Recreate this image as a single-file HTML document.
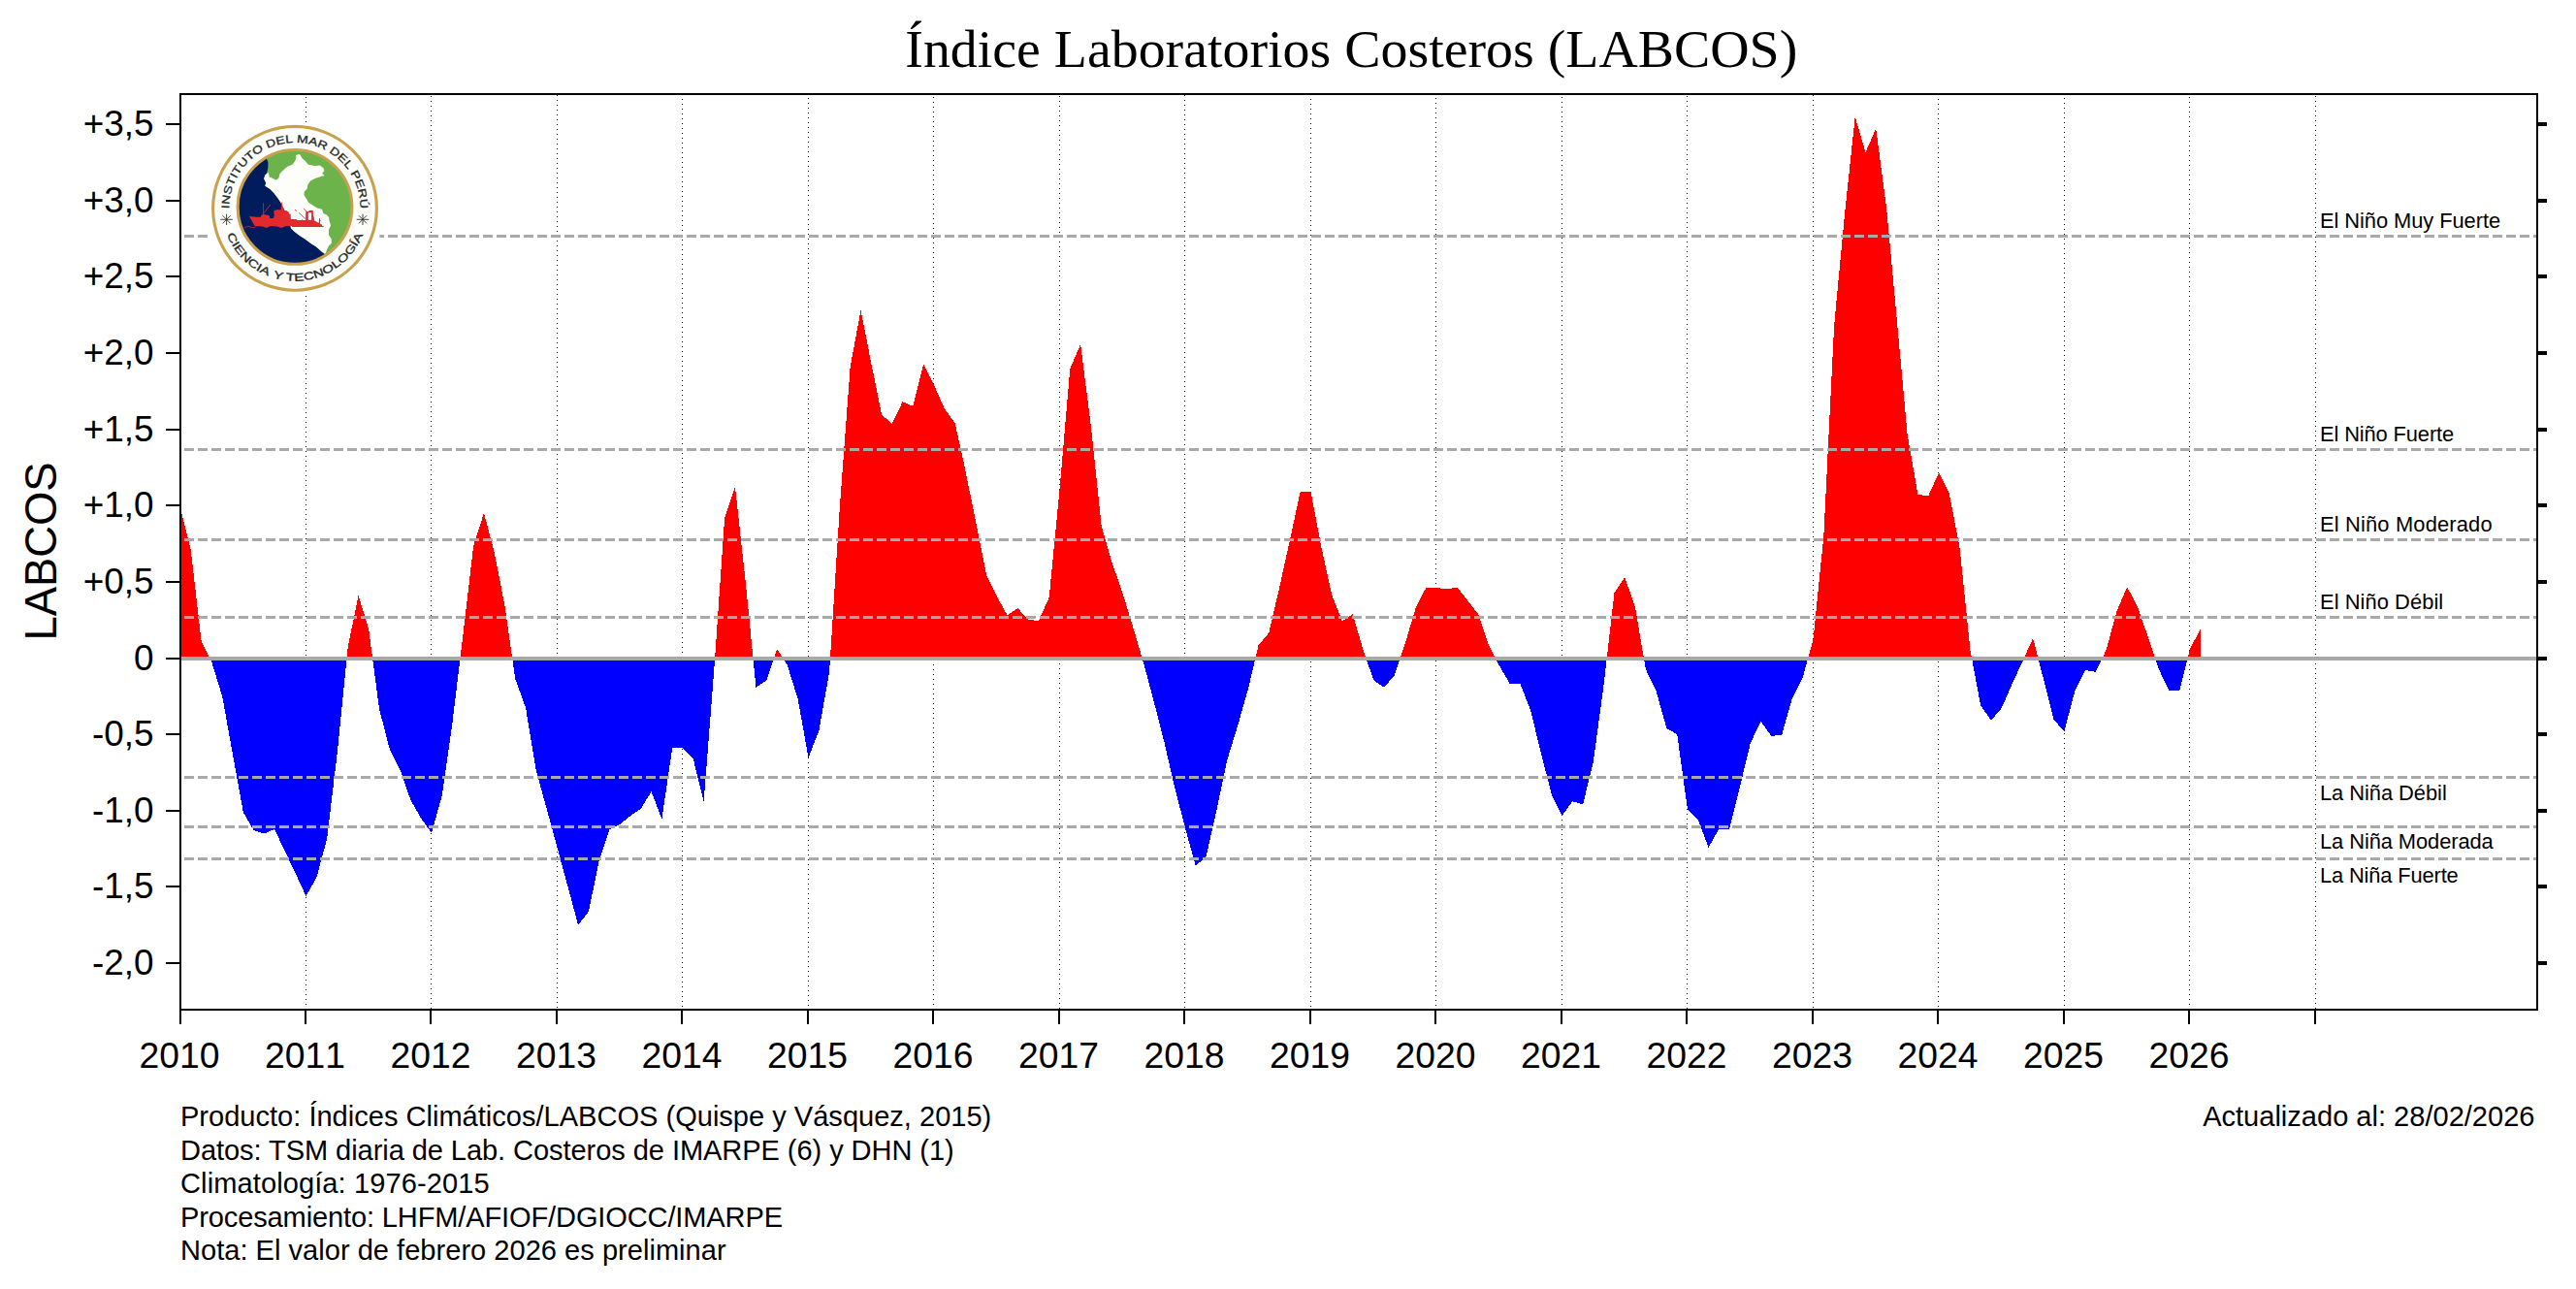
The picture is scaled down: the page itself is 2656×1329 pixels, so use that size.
<!DOCTYPE html>
<html lang="es"><head><meta charset="utf-8">
<title>Índice Laboratorios Costeros (LABCOS)</title>
<style>
html,body{margin:0;padding:0;background:#fff;}
body{width:2656px;height:1329px;overflow:hidden;}
svg{display:block;}
.sans{font-family:"Liberation Sans",Arial,Helvetica,sans-serif;fill:#000;}
.serif{font-family:"Liberation Serif","Times New Roman",Times,serif;fill:#000;}
</style></head><body>
<svg width="2656" height="1329" viewBox="0 0 2656 1329">
<rect x="0" y="0" width="2656" height="1329" fill="#fff"/>
<defs>
<clipPath id="cpos"><rect x="186" y="97" width="2430" height="581.50"/></clipPath>
<clipPath id="cneg"><rect x="186" y="678.50" width="2430" height="362.50"/></clipPath>
</defs>
<text class="serif" x="1393.3" y="68.9" font-size="55.87" text-anchor="middle">Índice Laboratorios Costeros (LABCOS)</text>
<g stroke="#000" stroke-width="1" stroke-dasharray="1 4" shape-rendering="crispEdges">
<line x1="315.5" y1="100" x2="315.5" y2="1040"/>
<line x1="444.5" y1="99" x2="444.5" y2="1040"/>
<line x1="574.5" y1="98" x2="574.5" y2="1040"/>
<line x1="703.5" y1="102" x2="703.5" y2="1040"/>
<line x1="833.5" y1="101" x2="833.5" y2="1040"/>
<line x1="962.5" y1="100" x2="962.5" y2="1040"/>
<line x1="1092.5" y1="99" x2="1092.5" y2="1040"/>
<line x1="1221.5" y1="98" x2="1221.5" y2="1040"/>
<line x1="1351.5" y1="102" x2="1351.5" y2="1040"/>
<line x1="1480.5" y1="101" x2="1480.5" y2="1040"/>
<line x1="1610.5" y1="100" x2="1610.5" y2="1040"/>
<line x1="1739.5" y1="99" x2="1739.5" y2="1040"/>
<line x1="1869.5" y1="98" x2="1869.5" y2="1040"/>
<line x1="1998.5" y1="102" x2="1998.5" y2="1040"/>
<line x1="2128.5" y1="101" x2="2128.5" y2="1040"/>
<line x1="2257.5" y1="100" x2="2257.5" y2="1040"/>
<line x1="2387.5" y1="99" x2="2387.5" y2="1040"/>
</g>
<path d="M186.0,678.5 L186.0,524.0 L196.8,567.5 L207.6,661.0 L218.4,683.0 L229.2,718.0 L240.0,778.0 L250.8,837.5 L261.5,856.0 L272.3,859.5 L283.1,855.0 L293.9,878.0 L304.7,900.5 L315.5,923.8 L326.3,905.0 L337.1,865.0 L347.9,775.0 L358.7,667.5 L369.5,613.8 L380.2,648.8 L391.0,731.0 L401.8,772.5 L412.6,793.8 L423.4,825.0 L434.2,843.8 L445.0,858.8 L455.8,820.0 L466.6,744.0 L477.4,654.8 L488.2,562.5 L499.0,528.8 L509.8,570.0 L520.5,625.0 L531.3,700.0 L542.1,730.0 L552.9,795.0 L563.7,834.0 L574.5,873.8 L585.3,913.5 L596.1,953.8 L606.9,940.0 L617.7,887.5 L628.5,855.0 L639.2,850.0 L650.0,841.2 L660.8,833.8 L671.6,816.2 L682.4,844.5 L693.2,771.2 L704.0,771.2 L714.8,782.5 L725.6,826.8 L736.4,689.0 L747.2,533.8 L758.0,502.0 L768.8,601.0 L779.5,708.8 L790.3,701.5 L801.1,669.0 L811.9,686.0 L822.7,721.0 L833.5,781.2 L844.3,753.8 L855.1,693.0 L865.9,522.0 L876.7,378.0 L887.5,320.0 L898.2,374.0 L909.0,427.5 L919.8,437.0 L930.6,414.2 L941.4,418.8 L952.2,375.0 L963.0,397.0 L973.8,421.2 L984.6,436.2 L995.4,485.0 L1006.2,538.8 L1017.0,592.5 L1027.8,615.0 L1038.5,634.2 L1049.3,627.0 L1060.1,638.8 L1070.9,640.0 L1081.7,616.0 L1092.5,505.0 L1103.3,380.0 L1114.1,355.0 L1124.9,440.0 L1135.7,542.5 L1146.5,580.0 L1157.2,610.5 L1168.0,646.0 L1178.8,682.5 L1189.6,723.0 L1200.4,765.0 L1211.2,812.0 L1222.0,853.9 L1232.8,892.9 L1243.6,883.0 L1254.4,835.2 L1265.2,784.0 L1276.0,748.8 L1286.8,711.0 L1297.5,665.5 L1308.3,652.5 L1319.1,606.0 L1329.9,557.0 L1340.7,507.0 L1351.5,507.0 L1362.3,563.8 L1373.1,613.0 L1383.9,640.5 L1394.7,633.2 L1405.5,670.0 L1416.2,701.2 L1427.0,708.8 L1437.8,696.2 L1448.6,664.0 L1459.4,627.5 L1470.2,606.2 L1481.0,605.8 L1491.8,607.5 L1502.6,605.5 L1513.4,619.5 L1524.2,633.2 L1535.0,665.0 L1545.8,686.2 L1556.5,704.5 L1567.3,704.5 L1578.1,732.5 L1588.9,776.5 L1599.7,818.8 L1610.5,841.2 L1621.3,826.2 L1632.1,829.5 L1642.9,785.0 L1653.7,705.0 L1664.5,611.2 L1675.2,595.0 L1686.0,626.2 L1696.8,690.0 L1707.6,712.5 L1718.4,751.2 L1729.2,757.0 L1740.0,835.0 L1750.8,845.0 L1761.6,873.8 L1772.4,854.5 L1783.2,854.5 L1794.0,811.0 L1804.8,766.2 L1815.5,743.8 L1826.3,758.8 L1837.1,758.0 L1847.9,720.0 L1858.7,698.5 L1869.5,659.5 L1880.3,553.0 L1891.1,336.0 L1901.9,222.0 L1912.7,120.5 L1923.5,157.0 L1934.2,132.5 L1945.0,213.8 L1955.8,330.0 L1966.6,447.5 L1977.4,510.0 L1988.2,511.2 L1999.0,487.5 L2009.8,508.8 L2020.6,565.0 L2031.4,670.0 L2042.2,727.5 L2053.0,742.8 L2063.8,730.0 L2074.5,705.5 L2085.3,682.0 L2096.1,658.0 L2106.9,700.0 L2117.7,742.5 L2128.5,753.8 L2139.3,712.5 L2150.1,691.1 L2160.9,692.8 L2171.7,670.0 L2182.5,630.0 L2193.2,605.0 L2204.0,626.0 L2214.8,657.0 L2225.6,689.5 L2236.4,711.9 L2247.2,711.9 L2258.0,668.8 L2268.8,648.9 L2268.8,678.5 Z" fill="#ff0000" clip-path="url(#cpos)" shape-rendering="crispEdges"/>
<path d="M186.0,678.5 L186.0,524.0 L196.8,567.5 L207.6,661.0 L218.4,683.0 L229.2,718.0 L240.0,778.0 L250.8,837.5 L261.5,856.0 L272.3,859.5 L283.1,855.0 L293.9,878.0 L304.7,900.5 L315.5,923.8 L326.3,905.0 L337.1,865.0 L347.9,775.0 L358.7,667.5 L369.5,613.8 L380.2,648.8 L391.0,731.0 L401.8,772.5 L412.6,793.8 L423.4,825.0 L434.2,843.8 L445.0,858.8 L455.8,820.0 L466.6,744.0 L477.4,654.8 L488.2,562.5 L499.0,528.8 L509.8,570.0 L520.5,625.0 L531.3,700.0 L542.1,730.0 L552.9,795.0 L563.7,834.0 L574.5,873.8 L585.3,913.5 L596.1,953.8 L606.9,940.0 L617.7,887.5 L628.5,855.0 L639.2,850.0 L650.0,841.2 L660.8,833.8 L671.6,816.2 L682.4,844.5 L693.2,771.2 L704.0,771.2 L714.8,782.5 L725.6,826.8 L736.4,689.0 L747.2,533.8 L758.0,502.0 L768.8,601.0 L779.5,708.8 L790.3,701.5 L801.1,669.0 L811.9,686.0 L822.7,721.0 L833.5,781.2 L844.3,753.8 L855.1,693.0 L865.9,522.0 L876.7,378.0 L887.5,320.0 L898.2,374.0 L909.0,427.5 L919.8,437.0 L930.6,414.2 L941.4,418.8 L952.2,375.0 L963.0,397.0 L973.8,421.2 L984.6,436.2 L995.4,485.0 L1006.2,538.8 L1017.0,592.5 L1027.8,615.0 L1038.5,634.2 L1049.3,627.0 L1060.1,638.8 L1070.9,640.0 L1081.7,616.0 L1092.5,505.0 L1103.3,380.0 L1114.1,355.0 L1124.9,440.0 L1135.7,542.5 L1146.5,580.0 L1157.2,610.5 L1168.0,646.0 L1178.8,682.5 L1189.6,723.0 L1200.4,765.0 L1211.2,812.0 L1222.0,853.9 L1232.8,892.9 L1243.6,883.0 L1254.4,835.2 L1265.2,784.0 L1276.0,748.8 L1286.8,711.0 L1297.5,665.5 L1308.3,652.5 L1319.1,606.0 L1329.9,557.0 L1340.7,507.0 L1351.5,507.0 L1362.3,563.8 L1373.1,613.0 L1383.9,640.5 L1394.7,633.2 L1405.5,670.0 L1416.2,701.2 L1427.0,708.8 L1437.8,696.2 L1448.6,664.0 L1459.4,627.5 L1470.2,606.2 L1481.0,605.8 L1491.8,607.5 L1502.6,605.5 L1513.4,619.5 L1524.2,633.2 L1535.0,665.0 L1545.8,686.2 L1556.5,704.5 L1567.3,704.5 L1578.1,732.5 L1588.9,776.5 L1599.7,818.8 L1610.5,841.2 L1621.3,826.2 L1632.1,829.5 L1642.9,785.0 L1653.7,705.0 L1664.5,611.2 L1675.2,595.0 L1686.0,626.2 L1696.8,690.0 L1707.6,712.5 L1718.4,751.2 L1729.2,757.0 L1740.0,835.0 L1750.8,845.0 L1761.6,873.8 L1772.4,854.5 L1783.2,854.5 L1794.0,811.0 L1804.8,766.2 L1815.5,743.8 L1826.3,758.8 L1837.1,758.0 L1847.9,720.0 L1858.7,698.5 L1869.5,659.5 L1880.3,553.0 L1891.1,336.0 L1901.9,222.0 L1912.7,120.5 L1923.5,157.0 L1934.2,132.5 L1945.0,213.8 L1955.8,330.0 L1966.6,447.5 L1977.4,510.0 L1988.2,511.2 L1999.0,487.5 L2009.8,508.8 L2020.6,565.0 L2031.4,670.0 L2042.2,727.5 L2053.0,742.8 L2063.8,730.0 L2074.5,705.5 L2085.3,682.0 L2096.1,658.0 L2106.9,700.0 L2117.7,742.5 L2128.5,753.8 L2139.3,712.5 L2150.1,691.1 L2160.9,692.8 L2171.7,670.0 L2182.5,630.0 L2193.2,605.0 L2204.0,626.0 L2214.8,657.0 L2225.6,689.5 L2236.4,711.9 L2247.2,711.9 L2258.0,668.8 L2268.8,648.9 L2268.8,678.5 Z" fill="#0000ff" clip-path="url(#cneg)" shape-rendering="crispEdges"/>
<g stroke="#a9a9a9" stroke-width="3" stroke-dasharray="10 4" shape-rendering="crispEdges">
<line x1="190" y1="243.5" x2="2615" y2="243.5"/>
<line x1="190" y1="463.5" x2="2615" y2="463.5"/>
<line x1="190" y1="556.5" x2="2615" y2="556.5"/>
<line x1="190" y1="636.5" x2="2615" y2="636.5"/>
<line x1="190" y1="801.5" x2="2615" y2="801.5"/>
<line x1="190" y1="852.5" x2="2615" y2="852.5"/>
<line x1="190" y1="885.5" x2="2615" y2="885.5"/>
</g>
<rect x="187" y="677" width="2428" height="4" fill="#a9a9a9"/>
<rect x="186" y="97" width="2430" height="944" fill="none" stroke="#000" stroke-width="2" shape-rendering="crispEdges"/>
<g stroke="#000" shape-rendering="crispEdges">
<line x1="171" y1="128" x2="186" y2="128" stroke-width="2"/>
<line x1="2616" y1="128" x2="2626" y2="128" stroke-width="4"/>
<line x1="171" y1="207" x2="186" y2="207" stroke-width="2"/>
<line x1="2616" y1="207" x2="2626" y2="207" stroke-width="4"/>
<line x1="171" y1="285" x2="186" y2="285" stroke-width="2"/>
<line x1="2616" y1="285" x2="2626" y2="285" stroke-width="4"/>
<line x1="171" y1="364" x2="186" y2="364" stroke-width="2"/>
<line x1="2616" y1="364" x2="2626" y2="364" stroke-width="4"/>
<line x1="171" y1="443" x2="186" y2="443" stroke-width="2"/>
<line x1="2616" y1="443" x2="2626" y2="443" stroke-width="4"/>
<line x1="171" y1="521" x2="186" y2="521" stroke-width="2"/>
<line x1="2616" y1="521" x2="2626" y2="521" stroke-width="4"/>
<line x1="171" y1="600" x2="186" y2="600" stroke-width="2"/>
<line x1="2616" y1="600" x2="2626" y2="600" stroke-width="4"/>
<line x1="171" y1="679" x2="186" y2="679" stroke-width="2"/>
<line x1="2616" y1="679" x2="2626" y2="679" stroke-width="4"/>
<line x1="171" y1="757" x2="186" y2="757" stroke-width="2"/>
<line x1="2616" y1="757" x2="2626" y2="757" stroke-width="4"/>
<line x1="171" y1="836" x2="186" y2="836" stroke-width="2"/>
<line x1="2616" y1="836" x2="2626" y2="836" stroke-width="4"/>
<line x1="171" y1="914" x2="186" y2="914" stroke-width="2"/>
<line x1="2616" y1="914" x2="2626" y2="914" stroke-width="4"/>
<line x1="171" y1="993" x2="186" y2="993" stroke-width="2"/>
<line x1="2616" y1="993" x2="2626" y2="993" stroke-width="4"/>
<line x1="186" y1="1041" x2="186" y2="1056" stroke-width="2"/>
<line x1="315" y1="1041" x2="315" y2="1056" stroke-width="2"/>
<line x1="444" y1="1041" x2="444" y2="1056" stroke-width="2"/>
<line x1="574" y1="1041" x2="574" y2="1056" stroke-width="2"/>
<line x1="703" y1="1041" x2="703" y2="1056" stroke-width="2"/>
<line x1="833" y1="1041" x2="833" y2="1056" stroke-width="2"/>
<line x1="962" y1="1041" x2="962" y2="1056" stroke-width="2"/>
<line x1="1092" y1="1041" x2="1092" y2="1056" stroke-width="2"/>
<line x1="1221" y1="1041" x2="1221" y2="1056" stroke-width="2"/>
<line x1="1351" y1="1041" x2="1351" y2="1056" stroke-width="2"/>
<line x1="1480" y1="1041" x2="1480" y2="1056" stroke-width="2"/>
<line x1="1610" y1="1041" x2="1610" y2="1056" stroke-width="2"/>
<line x1="1739" y1="1041" x2="1739" y2="1056" stroke-width="2"/>
<line x1="1869" y1="1041" x2="1869" y2="1056" stroke-width="2"/>
<line x1="1998" y1="1041" x2="1998" y2="1056" stroke-width="2"/>
<line x1="2128" y1="1041" x2="2128" y2="1056" stroke-width="2"/>
<line x1="2257" y1="1041" x2="2257" y2="1056" stroke-width="2"/>
<line x1="2387" y1="1041" x2="2387" y2="1056" stroke-width="2"/>
</g>
<g class="sans" font-size="36.9" text-anchor="end">
<text x="158.6" y="140.3">+3,5</text>
<text x="158.6" y="219.3">+3,0</text>
<text x="158.6" y="297.3">+2,5</text>
<text x="158.6" y="376.3">+2,0</text>
<text x="158.6" y="455.3">+1,5</text>
<text x="158.6" y="533.3">+1,0</text>
<text x="158.6" y="612.3">+0,5</text>
<text x="158.6" y="691.3">0</text>
<text x="158.6" y="769.3">-0,5</text>
<text x="158.6" y="848.3">-1,0</text>
<text x="158.6" y="926.3">-1,5</text>
<text x="158.6" y="1005.3">-2,0</text>
</g>
<g class="sans" font-size="37.3" text-anchor="middle" style="font-kerning:none">
<text x="185.0" y="1100.8">2010</text>
<text x="314.5" y="1100.8">2011</text>
<text x="444.0" y="1100.8">2012</text>
<text x="573.5" y="1100.8">2013</text>
<text x="703.0" y="1100.8">2014</text>
<text x="832.5" y="1100.8">2015</text>
<text x="962.0" y="1100.8">2016</text>
<text x="1091.5" y="1100.8">2017</text>
<text x="1221.0" y="1100.8">2018</text>
<text x="1350.5" y="1100.8">2019</text>
<text x="1480.0" y="1100.8">2020</text>
<text x="1609.5" y="1100.8">2021</text>
<text x="1739.0" y="1100.8">2022</text>
<text x="1868.5" y="1100.8">2023</text>
<text x="1998.0" y="1100.8">2024</text>
<text x="2127.5" y="1100.8">2025</text>
<text x="2257.0" y="1100.8">2026</text>
</g>
<text class="sans" font-size="45.4" text-anchor="middle" transform="translate(58,568.5) rotate(-90)">LABCOS</text>
<g class="sans" font-size="21.9">
<text x="2392" y="235.2" textLength="186.1">El Niño Muy Fuerte</text>
<text x="2392" y="454.9" textLength="138.2">El Niño Fuerte</text>
<text x="2392" y="547.9" textLength="177.6">El Niño Moderado</text>
<text x="2392" y="627.9" textLength="127.2">El Niño Débil</text>
<text x="2392" y="824.9" textLength="130.8">La Niña Débil</text>
<text x="2392" y="874.7" textLength="178.8">La Niña Moderada</text>
<text x="2392" y="910.0" textLength="142.8">La Niña Fuerte</text>
</g>
<g class="sans" font-size="29.05">
<text x="186" y="1161.40" textLength="836.3">Producto: Índices Climáticos/LABCOS (Quispe y Vásquez, 2015)</text>
<text x="186" y="1195.85" textLength="797.7">Datos: TSM diaria de Lab. Costeros de IMARPE (6) y DHN (1)</text>
<text x="186" y="1230.30" textLength="318.6">Climatología: 1976-2015</text>
<text x="186" y="1264.75" textLength="621.0">Procesamiento: LHFM/AFIOF/DGIOCC/IMARPE</text>
<text x="186" y="1299.20" textLength="562.6">Nota: El valor de febrero 2026 es preliminar</text>
<text x="2613.5" y="1161.4" text-anchor="end">Actualizado al: 28/02/2026</text>
</g>
<g id="logo">
<defs><clipPath id="cin"><circle cx="304.0" cy="213.4" r="58.6"/></clipPath>
<path id="arcT" d="M236.40,214.60 A67.60,67.60 0 0 1 371.60,214.60"/>
<path id="arcB" d="M228.80,214.60 A75.20,75.20 0 0 0 379.20,214.60"/>
</defs>
<rect x="214.7" y="126.5" width="176.6" height="176.6" fill="#fff"/>
<circle cx="304.0" cy="214.8" r="84.4" fill="#fdfdf9" stroke="#c9a04e" stroke-width="3.1"/>
<circle cx="304.0" cy="213.4" r="59" fill="#6db34b"/>
<g clip-path="url(#cin)">
<polygon points="273.3,159.9 276.4,166.9 276.4,172.5 275.2,178.1 272.4,183.7 274.0,188.5 273.3,191.7 278.2,194.8 282.4,199.0 286.6,204.6 289.4,208.8 292.2,214.4 296.4,222.8 299.2,231.1 299.9,235.3 303.4,238.8 309.0,243.0 314.5,246.5 320.1,250.7 325.7,254.2 332.0,259.8 335.5,262.5 336.9,280.0 234.9,280.0 234.9,145.9 273.3,145.9" fill="#011c5c"/>
<polygon points="304.8,159.9 309.0,159.1 311.8,163.4 314.5,165.8 318.0,169.7 324.3,171.1 329.9,170.5 333.4,173.2 334.4,176.0 332.1,178.8 334.7,180.9 329.9,182.3 324.3,184.3 320.1,186.4 317.3,190.6 316.6,194.8 313.8,197.6 313.4,201.1 316.6,206.0 318.0,208.8 321.5,210.9 327.1,214.4 332.0,215.8 333.4,220.0 336.9,221.4 339.0,224.1 339.7,228.3 341.1,232.5 339.0,236.7 339.0,242.3 341.8,246.5 341.8,250.7 339.0,253.5 336.9,257.7 335.5,262.1 332.0,259.8 325.7,254.2 320.1,250.7 314.5,246.5 309.0,243.0 303.4,238.8 299.9,235.3 299.2,231.1 296.4,222.8 292.2,214.4 289.4,208.8 286.6,204.6 282.4,199.0 278.2,194.8 273.3,191.7 274.3,188.5 272.0,184.3 273.3,180.2 276.8,177.8 277.5,182.3 281.0,183.7 284.5,185.7 287.3,183.7 288.7,178.8 292.2,175.3 296.4,171.8 301.3,169.7 304.1,166.2 305.5,162.0" fill="#fdfdf9"/>
</g>
<circle cx="304.0" cy="213.4" r="58.9" fill="none" stroke="#c9a04e" stroke-width="3.1"/>
<polygon points="257.0,223.1 264.2,223.8 268.8,223.8 269.6,221.8 271.2,221.1 274.7,221.4 277.8,222.2 278.2,224.9 282.0,224.9 282.8,221.8 282.2,217.4 284.8,216.2 289.8,216.2 290.0,214.4 288.4,214.6 290.0,213.4 290.2,208.4 291.0,208.4 291.3,213.2 292.5,214.4 292.6,216.8 295.6,217.2 297.8,218.8 297.8,220.2 299.6,220.7 299.9,226.1 305.7,226.1 306.1,227.1 310.8,227.1 311.5,226.1 312.0,227.1 315.1,227.1 315.3,217.9 317.8,217.9 319.3,217.1 322.8,217.1 323.0,223.0 323.6,223.3 324.0,227.2 328.6,229.9 329.2,224.9 330.0,224.9 330.0,226.8 331.0,227.2 330.0,228.0 330.0,230.7 331.7,231.5 332.2,233.0 333.8,233.2 333.8,233.9 324.0,233.9 316.6,233.9 310.0,233.9 301.5,233.9 299.9,232.8 294.5,233.3 289.8,235.0 288.3,234.6 285.9,233.4 278.9,233.1 274.7,235.0 270.4,233.5 265.7,233.3 263.0,233.5 261.5,231.1 259.5,227.6 258.0,224.9" fill="#e1292e"/>
<polygon points="317.8,219.1 321.1,219.1 321.1,226.9 317.8,226.9" fill="#fdfdf9"/>
<g stroke="#e1292e" stroke-width="0.8" fill="none">
<line x1="271.6" y1="209.2" x2="271.6" y2="221.4"/>
<line x1="272.0" y1="219.8" x2="278.8" y2="211.0"/>
<line x1="252.0" y1="234.6" x2="255.3" y2="233.4"/>
<line x1="255.3" y1="233.4" x2="257.6" y2="233.4"/>
<line x1="257.6" y1="233.4" x2="258.4" y2="234.6"/>
<line x1="258.4" y1="234.6" x2="263.1" y2="234.6"/>
<line x1="308.1" y1="219.3" x2="315.5" y2="226.1"/>
<line x1="313.3" y1="215.2" x2="315.9" y2="218.0"/>
<line x1="304.0" y1="216.2" x2="305.9" y2="217.7"/>
</g>
<g font-family="'Liberation Sans',Arial,sans-serif" fill="#232826" font-size="11.2" stroke="#232826" stroke-width="0.3" style="font-kerning:none">
<text><textPath href="#arcT" startOffset="50%" text-anchor="middle" textLength="213" lengthAdjust="spacingAndGlyphs">INSTITUTO DEL MAR DEL PERÚ</textPath></text>
<text><textPath href="#arcB" startOffset="50%" text-anchor="middle" textLength="180" lengthAdjust="spacingAndGlyphs">CIENCIA <tspan dx="0.7">Y</tspan><tspan dx="-0.7"> </tspan>TECNOLOGÍA</textPath></text>
</g>
<g stroke="#2a2f2c" stroke-width="0.9"><line x1="227.33" y1="226.30" x2="239.87" y2="226.30"/><line x1="229.57" y1="222.27" x2="237.63" y2="230.33"/><line x1="233.60" y1="220.60" x2="233.60" y2="232.00"/><line x1="237.63" y1="222.27" x2="229.57" y2="230.33"/></g>
<g stroke="#2a2f2c" stroke-width="0.9"><line x1="367.73" y1="226.30" x2="380.27" y2="226.30"/><line x1="369.97" y1="222.27" x2="378.03" y2="230.33"/><line x1="374.00" y1="220.60" x2="374.00" y2="232.00"/><line x1="378.03" y1="222.27" x2="369.97" y2="230.33"/></g>
</g>
</svg>
</body></html>
